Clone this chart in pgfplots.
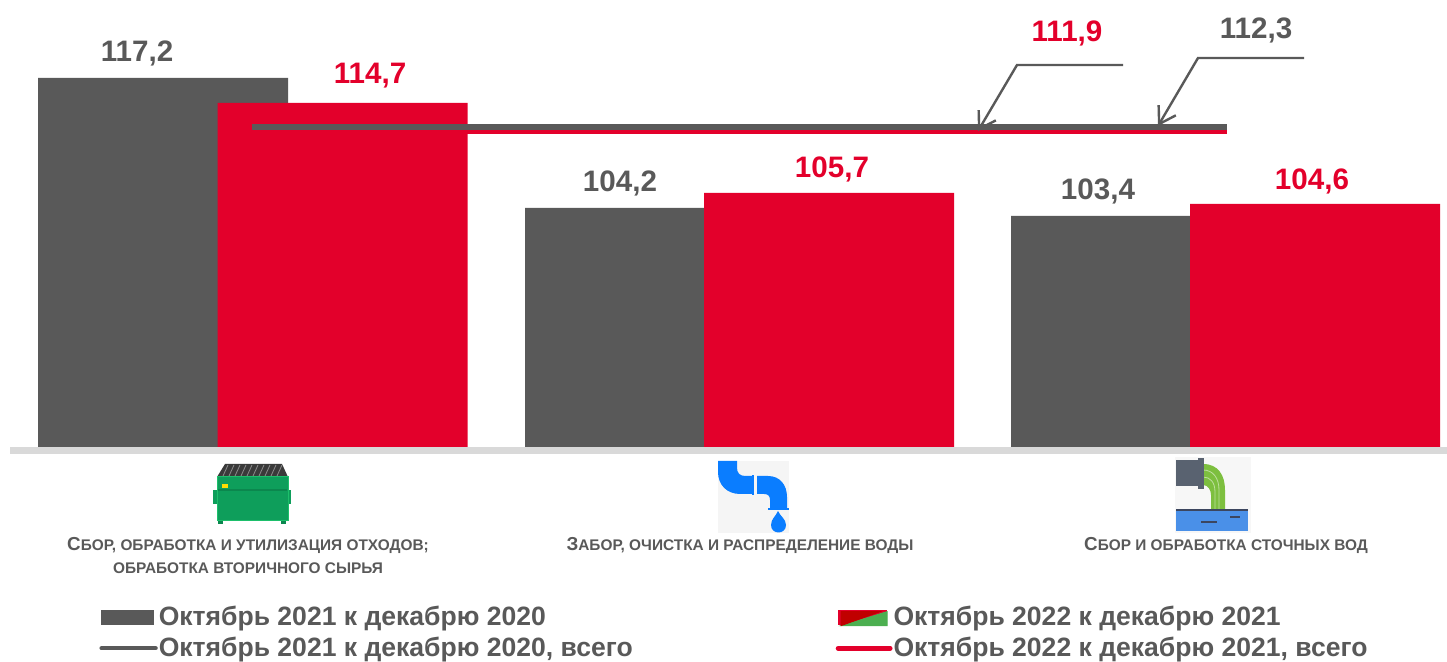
\documentclass[border=0pt]{standalone}
\usepackage{fontspec}
\setmainfont{Liberation Sans}
\usepackage{pgfplots}
\pgfplotsset{compat=1.18}
\usetikzlibrary{arrows.meta}
\definecolor{grey}{HTML}{595959}
\definecolor{crimson}{HTML}{E3002B}
\definecolor{rulegrey}{HTML}{D9D9D9}
\definecolor{tap}{HTML}{0A7DFF}
\definecolor{binlid}{HTML}{3A3A3A}
\definecolor{bin}{HTML}{0E9E5B}
\definecolor{binedge}{HTML}{1DBF6B}
\definecolor{bindark}{HTML}{0B874E}
\definecolor{pipegrey}{HTML}{596270}
\definecolor{pipegreen}{HTML}{7DBF3F}
\definecolor{water}{HTML}{4A90E8}
\definecolor{waterdark}{HTML}{3C465F}
\definecolor{swgreen}{HTML}{4CAF50}
\definecolor{swdark}{HTML}{C00000}
\newcommand{\cat}[1]{\bfseries\fontsize{7.7}{13}\selectfont #1}
\newcommand{\capl}[1]{{\fontsize{9.4}{13}\selectfont #1}}
\begin{document}
\begin{tikzpicture}
\path[use as bounding box] (0,0) rectangle (723.5pt,331pt);
\begin{axis}[
    at={(0,0)}, anchor=south west,
    scale only axis, width=723.5pt, height=331pt,
    xmin=0, xmax=1447, ymin=-21.5, ymax=44.7,
    y filter/.expression={y-80.3},
    hide axis, clip=false,
    legend columns=2,
    legend cell align=left,
    legend style={
        at={(axis cs:99,-15.5)}, anchor=north west,
        draw=none, fill=none, inner sep=0pt,
        font=\bfseries\fontsize{13.27}{15}\selectfont, text=grey,
        row sep=0.1pt,
        /tikz/column 1/.style={column sep=-1.5pt},
        /tikz/column 2/.style={column sep=99.5pt},
        /tikz/column 3/.style={column sep=-1.5pt},
    },
]
% baseline rule
\addplot[rulegrey, line width=3.4pt, forget plot] coordinates {(10,79.95) (1447,79.95)};
% bars
\addplot[ybar, bar width=125pt, bar shift=0pt, fill=grey, draw=none, forget plot]
    coordinates {(163,117.2) (650,104.2) (1136,103.4)};
\addplot[ybar, bar width=125pt, bar shift=0pt, fill=crimson, draw=none, forget plot]
    coordinates {(342.5,114.7) (829,105.7) (1315,104.6)};
% totals
\addplot[crimson, line width=3pt, forget plot] coordinates {(252,111.9) (1227,111.9)};
\addplot[grey, line width=2.6pt, forget plot] coordinates {(252,112.3) (1227,112.3)};
% legend
\addlegendimage{legend image code/.code={\fill[grey] (0pt,-3.5pt) rectangle (26pt,3.5pt);}}
\addlegendentry{Октябрь 2021 к декабрю 2020}
\addlegendimage{legend image code/.code={
    \fill[crimson] (0pt,-3.2pt) rectangle (24pt,3.8pt);
    \fill[swgreen] (1.5pt,-4pt) -- (24.5pt,-4pt) -- (24.5pt,3pt) -- cycle;
    \fill[swdark] (1.5pt,-4pt) -- (21pt,3pt) -- (1.5pt,3pt) -- cycle;}}
\addlegendentry{Октябрь 2022 к декабрю 2021}
\addlegendimage{legend image code/.code={\draw[grey, line width=2.2pt, line cap=round] (0pt,0pt) -- (27pt,0pt);}}
\addlegendentry{Октябрь 2021 к декабрю 2020, всего}
\addlegendimage{legend image code/.code={\draw[crimson, line width=2.4pt, line cap=round] (0pt,0pt) -- (26pt,0pt);}}
\addlegendentry{Октябрь 2022 к декабрю 2021, всего}
% value labels
\begin{scope}[every node/.style={font=\bfseries\fontsize{14.8}{16}\selectfont}]
\node[text=grey] at (axis cs:137,39.4) {117,2};
\node[text=crimson] at (axis cs:370,37.1) {114,7};
\node[text=grey] at (axis cs:620,26.4) {104,2};
\node[text=crimson] at (axis cs:832,27.8) {105,7};
\node[text=grey] at (axis cs:1098,25.6) {103,4};
\node[text=crimson] at (axis cs:1312,26.6) {104,6};
\node[text=crimson] at (axis cs:1067,41.4) {111,9};
\node[text=grey] at (axis cs:1256,41.7) {112,3};
\end{scope}
% category names
\begin{scope}[every node/.style={text=grey, align=center, inner sep=0pt}]
\node at (axis cs:248,-9.8) {\cat{\capl{С}БОР, ОБРАБОТКА И УТИЛИЗАЦИЯ ОТХОДОВ;}};
\node at (axis cs:248,-12.1) {\cat{ОБРАБОТКА ВТОРИЧНОГО СЫРЬЯ}};
\node at (axis cs:740,-9.8) {\cat{\capl{З}АБОР, ОЧИСТКА И РАСПРЕДЕЛЕНИЕ ВОДЫ}};
\node at (axis cs:1226,-9.8) {\cat{\capl{С}БОР И ОБРАБОТКА СТОЧНЫХ ВОД}};
\end{scope}
\end{axis}
% callouts and icons in pixel coordinates of the picture
\begin{scope}[x=0.5pt, y=-0.5pt, yshift=331pt]
\draw[grey, line width=1.2pt, -{Straight Barb[length=8pt,width=10pt,line width=1.2pt]}] (1123,65) -- (1017,65) -- (978,131);
\draw[grey, line width=1.2pt, -{Straight Barb[length=8pt,width=10pt,line width=1.2pt]}] (1304,58) -- (1198,58) -- (1158,126);
% dumpster
\fill[bin] (213,490) rectangle (291,504);
\fill[binlid] (217,477) -- (225,464) -- (282,464) -- (288,477) -- cycle;
\foreach \i in {0,...,9} \draw[black!45, line width=0.4pt] (223+\i*6,476) -- (228+\i*6,465);
\fill[bindark] (218,521) rectangle (223,524);
\fill[bindark] (281,521) rectangle (286,524);
\filldraw[fill=bin, draw=binedge, line width=0.5pt] (217,477) rectangle (288,521);
\fill[bindark] (218,489) rectangle (287,491);
\fill[yellow!80!orange] (222,484) rectangle (228,488);
% tap
\fill[black!4] (718,461) rectangle (789,533);
\fill[tap] (718,461) -- (737,461) -- (737,468) .. controls (737,473) and (740,476) .. (745,476) -- (753,476) -- (753,494) -- (740,494) .. controls (727,494) and (718,485) .. (718,472) -- cycle;
\fill[tap] (752,475) rectangle (754,495);
\fill[tap] (757,476) -- (768,476) .. controls (780,476) and (787,485) .. (787,497) -- (787,508) -- (770,508) -- (770,500) .. controls (770,496) and (768,494) .. (764,494) -- (757,494) -- cycle;
\fill[tap] (768,508) rectangle (789,510.5);
\fill[tap] (778,511) .. controls (776,516) and (771,519) .. (771,525) .. controls (771,535) and (786,535) .. (786,525) .. controls (786,519) and (780,516) .. (778,511) -- cycle;
% outlet
\fill[black!3] (1175,457) rectangle (1251,533);
\fill[pipegreen] (1203,464) .. controls (1218,464) and (1225,475) .. (1225,490) -- (1225,510) -- (1211,510) -- (1211,495) .. controls (1211,490) and (1208,485) .. (1203,485) -- cycle;
\draw[pipegreen!50!white, line width=0.4pt] (1203,470) .. controls (1213,470) and (1219,478) .. (1219,490) -- (1219,510);
\draw[pipegreen!50!white, line width=0.4pt] (1203,477) .. controls (1210,477) and (1215,482) .. (1215,492) -- (1215,510);
\fill[pipegrey] (1176,460) rectangle (1200,486);
\fill[pipegrey] (1198,458) rectangle (1204,489);
\fill[water] (1176,510) rectangle (1248,531);
\fill[waterdark] (1176,509) rectangle (1248,511);
\fill[waterdark] (1201,521) rectangle (1217,523);
\fill[waterdark] (1230,516) rectangle (1240,518);
\end{scope}
\end{tikzpicture}
\end{document}
